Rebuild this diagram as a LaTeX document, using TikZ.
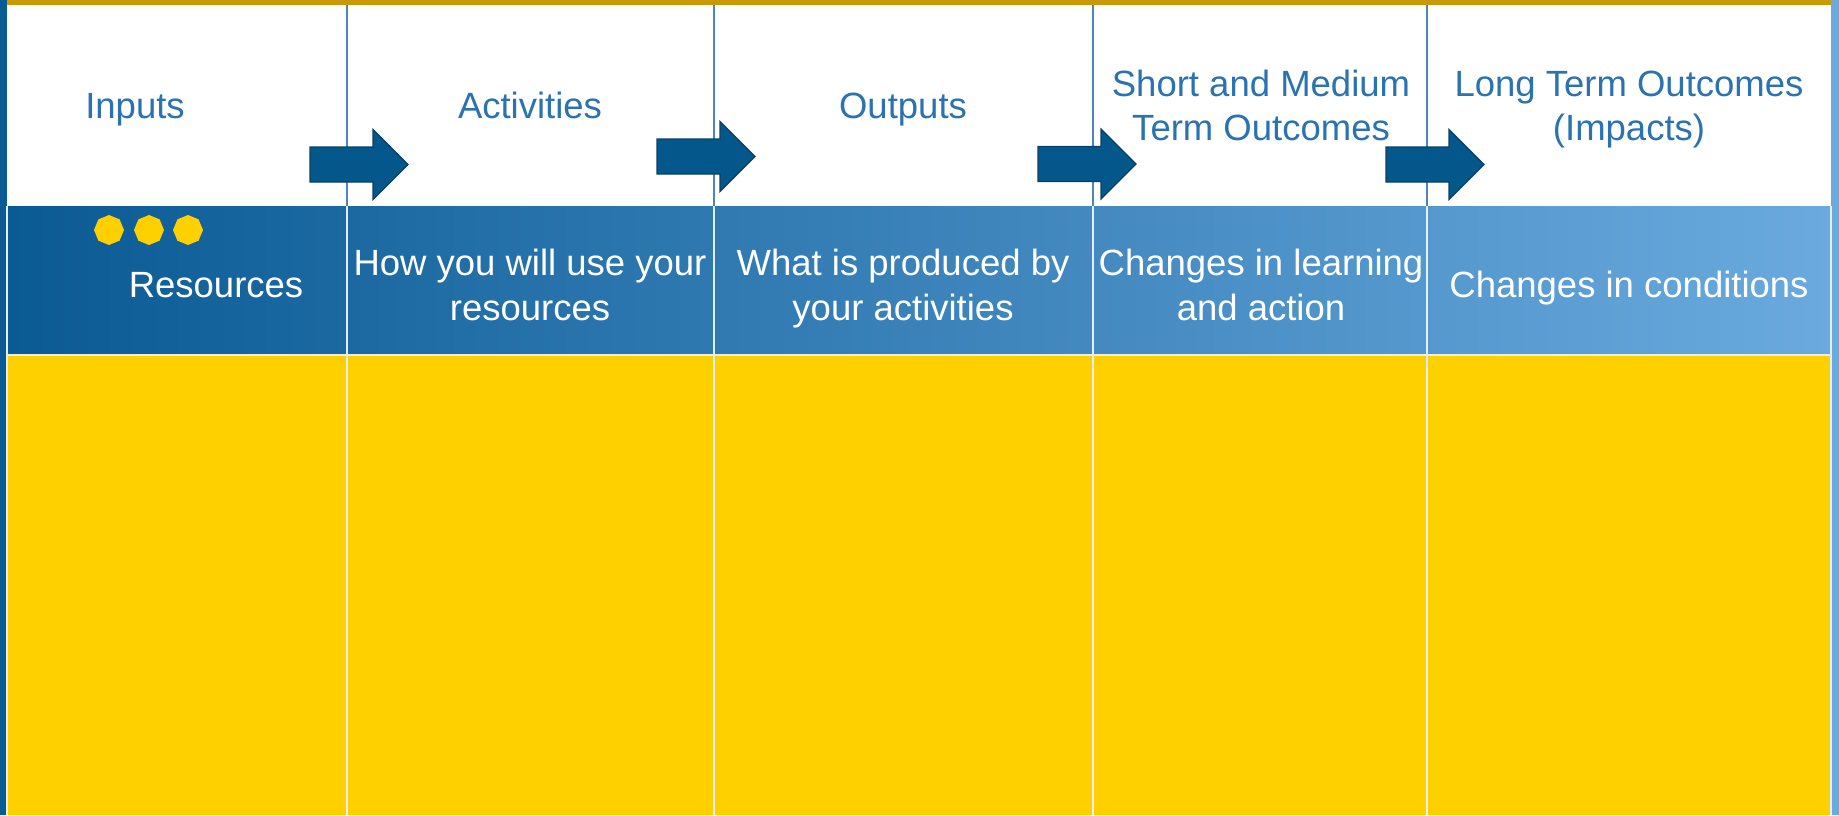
\documentclass[tikz,border=0pt]{standalone}
\usepackage{fontspec}
\setmainfont{Liberation Sans}
\usepackage{tikz}
\usetikzlibrary{calc,positioning,shapes.geometric}
\definecolor{stripdark}{HTML}{0A5A94}
\definecolor{striplight}{HTML}{6AAADE}
\definecolor{goldbar}{HTML}{CC9906}
\definecolor{hdrblue}{HTML}{2B72B0}
\definecolor{rulefill}{HTML}{FFD000}
\definecolor{pilfill}{HTML}{03578A}
\definecolor{pildraw}{HTML}{0B3F66}
\definecolor{gridblue}{HTML}{4A86BD}
\definecolor{gridlight}{HTML}{E4EEF8}
\tikzset{
    hdr/.style={
           text=hdrblue,
           align=center,
           inner sep=0pt,
           font=\fontsize{36.5}{44}\selectfont},
    cell/.style={
           text=white,
           align=center,
           inner sep=0pt,
           font=\fontsize{36.5}{45}\selectfont},
    bead/.style={
           regular polygon,
           regular polygon sides=8,
           shape border rotate=22.5,
           fill=rulefill,
           minimum size=30pt,
           inner sep=0pt},
    blockpil/.style={
           fill=pilfill,
           draw=pildraw,
           line width=1.2pt}
}
\begin{document}
\begin{tikzpicture}[x=1pt,y=-1pt]
          \useasboundingbox (0,0) rectangle (1839,815);
          % frame and bands
          \fill[white] (0,0) rectangle (1839,815);
          \fill[stripdark] (0,0) rectangle (7,815);
          \fill[striplight] (1831,0) rectangle (1839,815);
          \fill[goldbar] (7,0) rectangle (1831,5);
          \shade[left color=stripdark, middle color=hdrblue!80!stripdark, right color=striplight] (7,206) rectangle (1831,355);
          \fill[rulefill] (7,355) rectangle (1831,815);
          % grid
          \foreach \cx in {347,714,1093,1427}{
            \draw[gridblue, line width=1.5pt] (\cx,5) -- (\cx,206);
            \draw[gridlight, line width=1.8pt] (\cx,206) -- (\cx,815);
          }
          \draw[gridlight, line width=1.8pt] (7,355) -- (1831,355);
          \draw[gridlight, line width=1.2pt] (7,206) -- (7,815);
          \draw[gridlight, line width=1.2pt] (1831,206) -- (1831,815);
          % arrows
          \foreach \ax/\ay in {310/164.5, 657/156.5, 1038/164, 1386/164.5}{
            \draw[blockpil] (\ax,\ay-17.5) -- ++(63,0) -- ++(0,-17.5) -- ++(35,35)
              -- ++(-35,35) -- ++(0,-17.5) -- ++(-63,0) -- cycle;
          }
          % header
          \node[hdr, anchor=base] (inputs) at (135,118) {Inputs};
          \node[hdr, anchor=base] (activities) at (530,118) {Activities};
          \node[hdr, anchor=base] (outputs) at (903,118) {Outputs};
          \node[hdr] (shortterm) at (1261,105) {Short and Medium\\Term Outcomes};
          \node[hdr] (longterm) at (1629,109.5) {Long Term Outcomes\\(Impacts)};
          % band
          \node[bead] (bead1) at (109,230) {};
          \node[bead] (bead2) at (149,230) {};
          \node[bead] (bead3) at (188,230) {};
          \node[cell, anchor=base] (resources) at (216,297) {Resources};
          \node[cell] (howuse) at (530,285) {How you will use your\\resources};
          \node[cell] (produced) at (903,288.5) {What is produced by\\your activities};
          \node[cell] (learning) at (1261,285) {Changes in learning\\and action};
          \node[cell, anchor=base] (conditions) at (1629,297) {Changes in conditions};
         \end{tikzpicture}
\end{document}
